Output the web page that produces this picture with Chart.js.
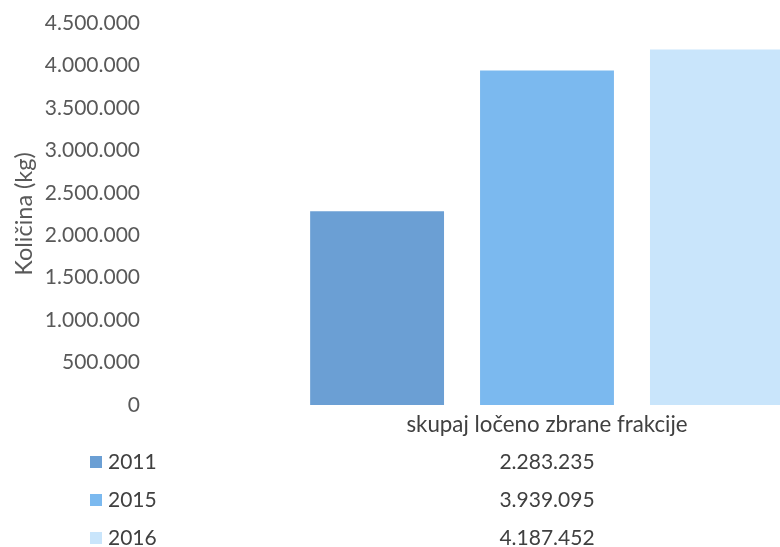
<!DOCTYPE html>
<html>
<head>
<meta charset="utf-8">
<script src="https://cdn.jsdelivr.net/npm/chart.js@4.4.1/dist/chart.umd.min.js"></script>
<style>
  html, body { margin: 0; padding: 0; background: #fff; }
  #frame { width: 780px; height: 547px; overflow: hidden; position: relative; }
  #wide { width: 960px; height: 547px; position: absolute; left: 0; top: 0; }
</style>
</head>
<body>
<div id="frame"><div id="wide"><canvas id="chart"></canvas></div></div>
<script>
// Podatki
const categories = ['skupaj ločeno zbrane frakcije'];
const years = ['2011', '2015', '2016'];
const values2011 = [2283235];
const values2015 = [3939095];
const values2016 = [4187452];
const yTicks = [0, 500000, 1000000, 1500000, 2000000, 2500000, 3000000, 3500000, 4000000, 4500000];

const colors = ['#6b9fd4', '#7bb9ef', '#c9e5fb'];
const FONT = "Lato, 'Open Sans', sans-serif";

// 4187452 -> "4.187.452"
function fmt(n) {
    return String(n).replace(/\B(?=(\d{3})+(?!\d))/g, '.');
}

// Tabela s podatki pod grafom
const dataTable = {
    id: 'dataTable',
    afterDraw(chart) {
        const ctx = chart.ctx;
        const x = chart.scales.x.getPixelForValue(0);
        const base = chart.chartArea.bottom;
        ctx.save();
        ctx.textBaseline = 'middle';
        ctx.textAlign = 'center';
        ctx.fillStyle = '#404040';
        ctx.font = '22.3px ' + FONT;
        ctx.fillText(categories[0], x, base + 20);

        ctx.font = '21px ' + FONT;
        const rows = [57, 95, 133];
        chart.data.datasets.forEach((ds, i) => {
            const y = base + rows[i];
            ctx.fillStyle = ds.backgroundColor;
            ctx.fillRect(90, y - 6, 12, 12);
            ctx.fillStyle = '#404040';
            ctx.textAlign = 'left';
            ctx.fillText(ds.label, 108, y);
            ctx.textAlign = 'center';
            ctx.fillText(fmt(ds.data[0]), x, y);
        });
        ctx.restore();
    }
};

new Chart(document.getElementById('chart'), {
    type: 'bar',
    data: {
        labels: categories,
        datasets: [
            { label: years[0], data: values2011, backgroundColor: colors[0] },
            { label: years[1], data: values2015, backgroundColor: colors[1] },
            { label: years[2], data: values2016, backgroundColor: colors[2] }
        ]
    },
    options: {
        responsive: true,
        maintainAspectRatio: false,
        animation: false,
        categoryPercentage: 0.642,
        barPercentage: 0.788,
        layout: { padding: { top: 23, right: 16, left: 0, bottom: 0 } },
        plugins: {
            legend: { display: false },
            tooltip: { enabled: false }
        },
        scales: {
            x: {
                grid: { display: false },
                border: { display: false },
                ticks: { display: false },
                afterFit(scale) { scale.height = 142; }
            },
            y: {
                min: 0,
                max: 4500000,
                afterBuildTicks(scale) { scale.ticks = yTicks.map(v => ({ value: v })); },
                grid: { display: false, drawTicks: false },
                border: { display: false },
                ticks: {
                    padding: 10,
                    color: '#595959',
                    font: { family: FONT, size: 21 },
                    callback: v => fmt(v)
                },
                title: {
                    display: true,
                    text: 'Količina (kg)',
                    color: '#595959',
                    font: { family: FONT, size: 23.5 },
                    padding: { top: 10, bottom: 0 }
                },
                afterFit(scale) { scale.width = 150; }
            }
        }
    },
    plugins: [dataTable]
});
</script>
</body>
</html>
